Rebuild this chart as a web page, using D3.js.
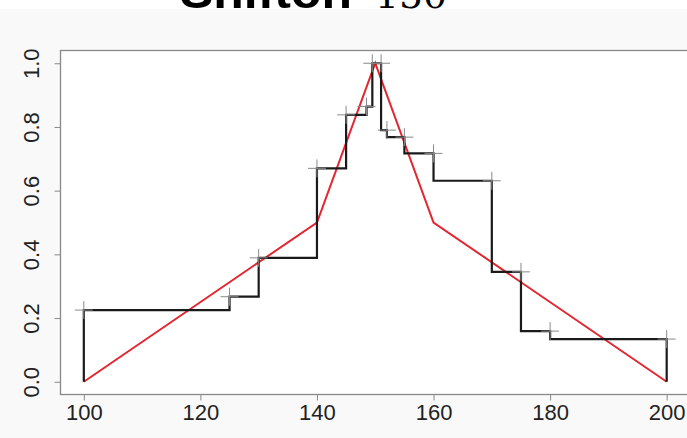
<!DOCTYPE html>
<html><head><meta charset="utf-8">
<script src="https://cdn.jsdelivr.net/npm/d3@7"></script>
<style>body{margin:0;background:#f9f9f9;}svg{display:block;}</style>
</head><body>
<script>
// Data
const stepX = [100, 125, 130, 140, 145, 148.5, 149.5, 151, 152, 155, 160, 170, 175, 180];
const stepY = [0.225, 0.267, 0.389, 0.67, 0.838, 0.864, 1.0, 0.79, 0.768, 0.717, 0.631, 0.345, 0.159, 0.134];
const stepEnd = 200;
const knotX = [100, 125, 130, 140, 145, 148.5, 149.5, 151, 152, 155, 160, 170, 175, 180, 200];
const knotY = [0.225, 0.267, 0.389, 0.67, 0.838, 0.864, 1.0, 1.0, 0.79, 0.768, 0.717, 0.631, 0.345, 0.159, 0.134];
const triX = [100, 140, 150, 160, 200];
const triY = [0, 0.5, 1, 0.5, 0];
const xTicks = [100, 120, 140, 160, 180, 200];
const yTicks = [0.0, 0.2, 0.4, 0.6, 0.8, 1.0];
const titleText = "Shifton";
const titleNum = "150";

const W = 687, H = 438;
const svg = d3.select("body").append("svg").attr("width", W).attr("height", H);

const x = d3.scaleLinear().domain([96, 204]).range([60.5, 690]);
const y = d3.scaleLinear().domain([-0.04, 1.04]).range([394.5, 50.5]);

// top white strip with title
svg.append("rect").attr("x", 0).attr("y", 0).attr("width", W).attr("height", 9).attr("fill", "#ffffff");
svg.append("text").attr("x", 180).attr("y", 8).attr("fill", "#000")
  .attr("font-family", "Liberation Sans, Arial, sans-serif").attr("font-weight", "bold").attr("font-size", 47)
  .attr("textLength", 172).attr("lengthAdjust", "spacingAndGlyphs").text(titleText);
svg.append("text").attr("x", 375).attr("y", 8).attr("fill", "#000")
  .attr("font-family", "DejaVu Serif, serif").attr("font-size", 36)
  .attr("textLength", 72).attr("lengthAdjust", "spacingAndGlyphs").text(titleNum);

// plot area
svg.append("rect").attr("x", x(96)).attr("y", y(1.04)).attr("width", x(204) - x(96)).attr("height", y(-0.04) - y(1.04)).attr("fill", "#ffffff");

// red triangle
const tri = triX.map((d, i) => [d, triY[i]]);
svg.append("path").datum(tri)
  .attr("d", d3.line().x(d => x(d[0])).y(d => y(d[1])))
  .attr("fill", "none").attr("stroke", "#e3262f").attr("stroke-width", 2);

// step function
const pts = [[stepX[0], 0]].concat(stepX.map((d, i) => [d, stepY[i]]), [[stepEnd, stepY[stepY.length - 1]], [stepEnd, 0]]);
svg.append("path").datum(pts)
  .attr("d", d3.line().curve(d3.curveStepAfter).x(d => x(d[0])).y(d => y(d[1])))
  .attr("fill", "none").attr("stroke", "#1a1a1a").attr("stroke-width", 2.2);

// plus markers
const knots = knotX.map((d, i) => [d, knotY[i]]);
const arm = 9;
svg.append("g").selectAll("path").data(knots).join("path")
  .attr("d", d => `M${x(d[0]) - arm},${y(d[1])}H${x(d[0]) + arm}M${x(d[0])},${y(d[1]) - arm}V${y(d[1]) + arm}`)
  .attr("stroke", "#8a8a8a").attr("stroke-width", 1).attr("fill", "none");

// box
svg.append("rect").attr("x", x(96)).attr("y", y(1.04)).attr("width", x(204) - x(96)).attr("height", y(-0.04) - y(1.04))
  .attr("fill", "none").attr("stroke", "#888").attr("stroke-width", 1.3);

// axes
const font = "Liberation Sans, Arial, sans-serif";
const xa = svg.append("g").attr("transform", `translate(0,${y(-0.04)})`)
  .call(d3.axisBottom(x).tickValues(xTicks).tickSize(6).tickSizeOuter(0).tickPadding(4).tickFormat(d3.format("d")));
xa.select(".domain").remove();
xa.selectAll("line").attr("stroke", "#888");
xa.selectAll("text").attr("font-family", font).attr("font-size", 22).attr("fill", "#222");

const ya = svg.append("g").attr("transform", `translate(${x(96)},0)`)
  .call(d3.axisLeft(y).tickValues(yTicks).tickSize(6).tickSizeOuter(0).tickFormat(d3.format(".1f")));
ya.select(".domain").remove();
ya.selectAll("line").attr("stroke", "#888");
ya.selectAll("text").attr("font-family", font).attr("font-size", 22).attr("fill", "#222")
  .attr("text-anchor", "middle").attr("x", null)
  .attr("transform", "translate(-29,0) rotate(-90)").attr("dy", "0.36em");
</script>
</body></html>
